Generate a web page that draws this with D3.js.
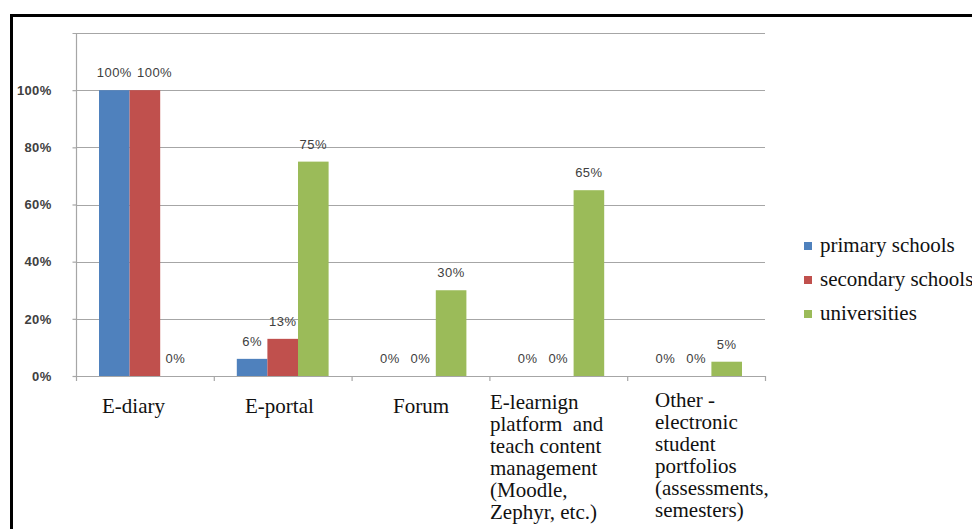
<!DOCTYPE html>
<html>
<head>
<meta charset="utf-8">
<script src="https://cdn.jsdelivr.net/npm/d3@7"></script>
<style>
  html, body { margin: 0; padding: 0; background: #fff; }
  svg { display: block; }
</style>
</head>
<body>
<svg id="chart" width="972" height="529"></svg>
<script>
// Categories (multi-line labels split into lines)
const categories = [
  ["E-diary"],
  ["E-portal"],
  ["Forum"],
  ["E-learnign", "platform  and", "teach content", "management", "(Moodle,", "Zephyr, etc.)"],
  ["Other -", "electronic", "student", "portfolios", "(assessments,", "semesters)"]
];
const seriesNames = ["primary schools", "secondary schools", "universities"];
const seriesColors = ["#4f81bd", "#c0504d", "#9bbb59"];
const primarySchools   = [1.00, 0.06, 0.00, 0.00, 0.00];
const secondarySchools = [1.00, 0.13, 0.00, 0.00, 0.00];
const universities     = [0.00, 0.75, 0.30, 0.65, 0.05];
const yTicks = [0, 0.2, 0.4, 0.6, 0.8, 1.0];

const SERIF = '"Liberation Serif", "Times New Roman", serif';
const SANS = '"Liberation Sans", Arial, sans-serif';

const series = [primarySchools, secondarySchools, universities];
const svg = d3.select("#chart");

// outer frame
svg.append("rect").attr("x", 11.5).attr("y", 15.5).attr("width", 972).attr("height", 529)
  .attr("fill", "none").attr("stroke", "#000").attr("stroke-width", 3);

const plotLeft = 76, plotRight = 765, plotTop = 33, plotBottom = 376;
const x = d3.scaleBand().domain(d3.range(categories.length)).range([plotLeft, plotRight]).paddingInner(0).paddingOuter(0);
const y = d3.scaleLinear().domain([0, 1.2]).range([plotBottom, plotTop]);
const groupPad = 23;
const xs = d3.scaleBand().domain(d3.range(series.length))
  .range([groupPad, x.bandwidth() - groupPad]);

// horizontal grid lines
const gridVals = [0.2, 0.4, 0.6, 0.8, 1.0, 1.2];
svg.append("g").selectAll("line").data(gridVals).join("line")
  .attr("x1", plotLeft).attr("x2", plotRight)
  .attr("y1", d => Math.round(y(d)) + 0.5).attr("y2", d => Math.round(y(d)) + 0.5)
  .attr("stroke", "#a6a6a6").attr("stroke-width", 1.2);

// bars
series.forEach((vals, si) => {
  svg.append("g").selectAll("rect").data(vals).join("rect")
    .attr("x", (d, i) => x(i) + xs(si))
    .attr("y", d => y(d))
    .attr("width", xs.bandwidth())
    .attr("height", d => plotBottom - y(d))
    .attr("fill", seriesColors[si]);
});

// value labels; a label that would collide with its left neighbour at the
// same height is nudged to the right
const labelGroups = series.map((vals, si) =>
  svg.append("g").selectAll("text").data(vals).join("text")
    .style("font-family", SANS)
    .style("font-size", "13px")
    .style("letter-spacing", "0.5px")
    .attr("x", (d, i) => x(i) + xs(si) + xs.bandwidth() / 2)
    .attr("y", d => y(d) - 13)
    .attr("text-anchor", "middle")
    .attr("fill", "#404040")
    .text(d => Math.round(d * 100) + "%")
);
categories.forEach((c, ci) => {
  let prevRight = -Infinity, prevY = null;
  labelGroups.forEach(sel => {
    const node = sel.nodes()[ci];
    const bb = node.getBBox();
    const ty = +node.getAttribute("y");
    if (prevY !== null && Math.abs(ty - prevY) < 12 && bb.x < prevRight + 5) {
      const shift = prevRight + 5 - bb.x;
      node.setAttribute("x", +node.getAttribute("x") + shift);
      prevRight = bb.x + bb.width + shift;
    } else {
      prevRight = bb.x + bb.width;
    }
    prevY = ty;
  });
});

// y axis
const yAxis = d3.axisLeft(y).tickValues(yTicks).tickFormat(d => Math.round(d * 100) + "%").tickSize(4).tickPadding(21);
const gy = svg.append("g").attr("transform", `translate(${plotLeft + 0.5},0)`).call(yAxis);
gy.attr("font-family", null).attr("font-size", null);
gy.select(".domain").attr("stroke", "#a6a6a6").attr("stroke-width", 1.2).attr("d", `M-4,${plotTop + 0.5}H0V${plotBottom + 0.5}`);
gy.selectAll(".tick line").attr("stroke", "#a6a6a6").attr("stroke-width", 1.2);
gy.selectAll(".tick text")
  .style("font-family", SANS).style("font-size", "13px").style("font-weight", "bold")
  .style("letter-spacing", "0.3px")
  .attr("fill", "#404040");

// x axis with ticks at category boundaries
svg.append("line").attr("x1", plotLeft).attr("x2", plotRight)
  .attr("y1", plotBottom + 0.5).attr("y2", plotBottom + 0.5).attr("stroke", "#a6a6a6").attr("stroke-width", 1.2);
const bounds = d3.range(categories.length + 1).map(i => plotLeft + i * x.bandwidth());
svg.append("g").selectAll("line").data(bounds).join("line")
  .attr("x1", d => d + 0.5).attr("x2", d => d + 0.5)
  .attr("y1", plotBottom).attr("y2", plotBottom + 5)
  .attr("stroke", "#a6a6a6").attr("stroke-width", 1.2);

// category labels (serif)
const catX = [102, 245, 393, 490, 655];
const catY = [413, 413, 413, 409, 407];
categories.forEach((lines, i) => {
  const t = svg.append("text")
    .style("font-family", SERIF)
    .style("font-size", "21px")
    .attr("fill", "#111")
    .attr("text-anchor", "start");
  lines.forEach((ln, j) => {
    t.append("tspan")
      .attr("x", catX[i])
      .attr("y", catY[i] + j * 22)
      .attr("xml:space", "preserve")
      .text(ln);
  });
});

// legend
const legend = svg.append("g");
seriesNames.forEach((name, i) => {
  const ly = 246 + i * 34;
  legend.append("rect").attr("x", 804).attr("y", ly - 4).attr("width", 8).attr("height", 8)
    .attr("fill", seriesColors[i]);
  legend.append("text").style("font-family", SERIF).style("font-size", "21px")
    .attr("x", 820).attr("y", ly + 6)
    .attr("fill", "#111").text(name);
});
</script>
</body>
</html>
